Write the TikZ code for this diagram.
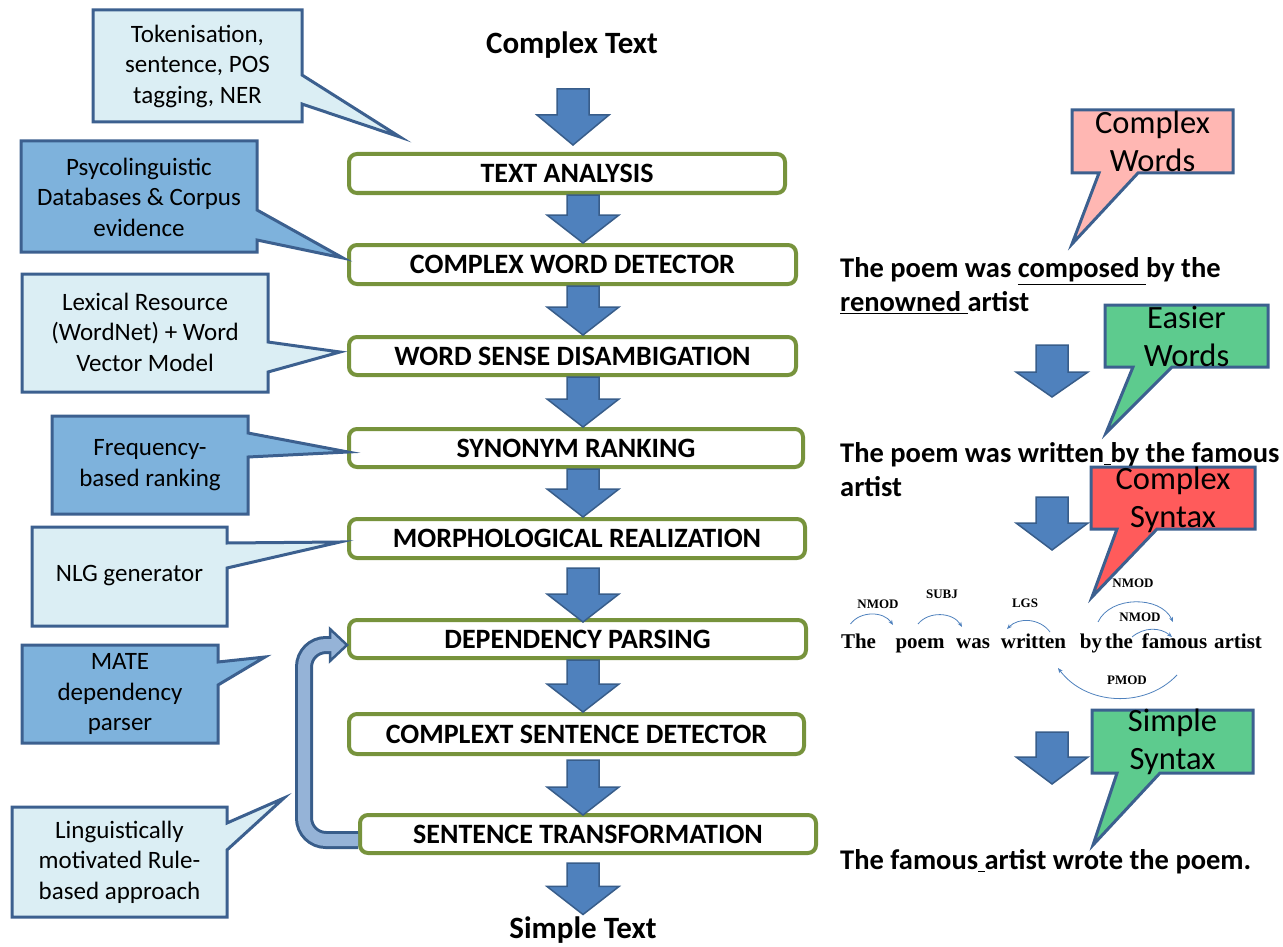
\documentclass[tikz,border=0pt]{standalone}
\usepackage{fontspec}
\setmainfont{Carlito}
\newfontfamily\depfont{Liberation Serif}
\usetikzlibrary{calc,arrows.meta}

\definecolor{calloutline}{RGB}{60,96,143}
\definecolor{lightfill}{RGB}{219,238,244}
\definecolor{midfill}{RGB}{126,178,220}
\definecolor{arrowfill}{RGB}{79,129,189}
\definecolor{arrowline}{RGB}{56,93,138}
\definecolor{stepline}{RGB}{119,147,60}
\definecolor{loopfill}{RGB}{149,179,215}
\definecolor{pinkfill}{RGB}{255,183,179}
\definecolor{greenfill}{RGB}{93,203,142}
\definecolor{redfill}{RGB}{255,91,91}

\tikzset{
  stepbox/.style={draw=stepline, line width=4pt, rounded corners=8pt, fill=white,
    inner sep=0pt, font=\fontsize{28}{30}\selectfont\bfseries},
  calloutL/.style={draw=calloutline, line width=3pt, fill=lightfill, line join=miter},
  calloutM/.style={draw=calloutline, line width=3pt, fill=midfill, line join=miter},
  calloutP/.style={draw=calloutline, line width=3pt, fill=pinkfill, line join=miter},
  calloutG/.style={draw=calloutline, line width=3pt, fill=greenfill, line join=miter},
  calloutR/.style={draw=calloutline, line width=3pt, fill=redfill, line join=miter},
  callouttext/.style={align=center, inner sep=0pt, font=\fontsize{25}{30.5}\selectfont},
  bigtext/.style={align=center, inner sep=0pt, font=\fontsize{32.5}{38}\selectfont},
  titletext/.style={inner sep=0pt, font=\fontsize{31}{34}\selectfont\bfseries},
  blockarrow/.style={fill=arrowfill, draw=arrowline, line width=1.5pt, line join=miter},
  sentence/.style={anchor=west, align=left, inner sep=0pt, font=\fontsize{28.5}{34}\selectfont\bfseries},
  depword/.style={anchor=base, inner sep=0pt, font=\depfont\bfseries\fontsize{21}{21}\selectfont},
  deplabel/.style={inner sep=0pt, font=\depfont\bfseries\fontsize{13}{13}\selectfont},
  deparc/.style={draw=arrowfill, line width=0.8pt, -{Stealth[length=5pt,width=4pt]}},
}

% callout with its pointer on the right edge: style, x1, y1, x2, y2, pointer start y, tip, pointer end y
\newcommand\calloutright[8]{%
  \draw[#1] (#2,#3) -- (#4,#3) -- (#4,#6) -- #7 -- (#4,#8) -- (#4,#5) -- (#2,#5) -- cycle;}
% callout with its pointer on the bottom edge: style, x1, y1, x2, y2, pointer left x, tip, pointer right x
\newcommand\calloutbottom[8]{%
  \draw[#1] (#2,#3) -- (#4,#3) -- (#4,#5) -- (#8,#5) -- #7 -- (#6,#5) -- (#2,#5) -- cycle;}
% downward block arrow: [head length] shaft start, tip
\newcommand\blockdown[3][28]{%
  \draw[blockarrow] let \p1=#2, \p2=#3 in
    (\x1-16pt,\y1) -- (\x1+16pt,\y1) -- (\x1+16pt,\y2+#1pt) -- (\x1+36pt,\y2+#1pt)
    -- (\x1,\y2) -- (\x1-36pt,\y2+#1pt) -- (\x1-16pt,\y2+#1pt) -- cycle;}

\begin{document}
\begin{tikzpicture}[x=1pt,y=-1pt]
\useasboundingbox (0,0) rectangle (1283,947);

% ---------- pipeline ----------
\node[titletext] (ct) at (572,45) {Complex Text};
\node[titletext] (stx) at (583,930) {Simple Text};

\node[stepbox, minimum width=436pt, minimum height=39pt] (ta)  at (567,173.5) {TEXT ANALYSIS};
\node[stepbox, minimum width=447pt, minimum height=39pt] (cwd) at (572.5,264.5) {COMPLEX WORD DETECTOR};
\node[stepbox, minimum width=447pt, minimum height=38pt] (wsd) at (572.5,356) {WORD SENSE DISAMBIGATION};
\node[stepbox, minimum width=454pt, minimum height=38pt] (sr)  at (576,448) {SYNONYM RANKING};
\node[stepbox, minimum width=456pt, minimum height=39pt] (mr)  at (577,538.5) {MORPHOLOGICAL REALIZATION};
\node[stepbox, minimum width=457pt, minimum height=38pt] (dp)  at (577.5,639) {DEPENDENCY PARSING};
\node[stepbox, minimum width=455pt, minimum height=40pt] (csd) at (576.5,734) {COMPLEXT SENTENCE DETECTOR};
\node[stepbox, minimum width=456pt, minimum height=38pt] (st)  at (588,834) {SENTENCE TRANSFORMATION};

% block arrows between the steps
\coordinate (ax) at (583,0);
\coordinate (top0) at (573,89);
\coordinate (top1) at (573,145);
\blockdown[30]{(top0)}{(top1)}
\blockdown{(ta.south -| ax)}{(cwd.north -| ax)}
\blockdown{(cwd.south -| ax)}{(wsd.north -| ax)}
\blockdown{(wsd.south -| ax)}{(sr.north -| ax)}
\blockdown{(sr.south -| ax)}{(mr.north -| ax)}
\blockdown{($(mr.south -| ax)+(0,8)$)}{($(dp.north -| ax)+(0,4)$)}
\blockdown{(dp.south -| ax)}{(csd.north -| ax)}
\blockdown{($(csd.south -| ax)+(0,4)$)}{($(st.north -| ax)+(0,2)$)}
\blockdown{($(st.south -| ax)+(0,8)$)}{($(stx.north -| ax)+(0,-2)$)}

% feedback loop from sentence transformation back to dependency parsing
\coordinate (fbx) at (304,0);
\coordinate (fb1) at ($(st.west)+(0,6)$);
\coordinate (fbhead) at ($(dp.west)+(0,6)$);
\coordinate (fb4) at ($(fbhead)+(-17,0)$);
\coordinate (fb2) at (fb1 -| fbx);
\coordinate (fb3) at (fb4 -| fbx);
\draw[arrowline, line width=18pt, rounded corners=22pt] (fb1) -- (fb2) -- (fb3) -- (fb4);
\filldraw[draw=arrowline, fill=loopfill, line width=2.5pt, line join=miter]
  ($(fb4)+(0,-16)$) -- (fbhead) -- ($(fb4)+(0,16)$) -- cycle;
\draw[loopfill, line width=12pt, rounded corners=22pt] (fb1) -- (fb2) -- (fb3) -- ($(fb4)+(3,0)$);

% ---------- resource callouts ----------
\calloutright{calloutL}{93}{10}{302}{122}{75}{(400,137)}{104}
\node[callouttext] (tok) at (197.5,66) {Tokenisation,\\sentence, POS\\tagging, NER};

\calloutright{calloutM}{21}{141}{257}{252}{210}{(343,258)}{240}
\node[callouttext] (psy) at (139,197) {Psycolinguistic\\Databases \& Corpus\\evidence};

\calloutright{calloutL}{22}{274}{268}{392}{342}{(340,352)}{372}
\node[callouttext] (lex) at (145,332) {Lexical Resource\\(WordNet) + Word\\Vector Model};

\calloutright{calloutM}{52}{416}{248}{514}{433}{(348,452)}{457}
\node[callouttext] (freq) at (150,465) {Frequency-\\based ranking};

\calloutright{calloutL}{32}{527}{227}{626}{543}{(340,542)}{568}
\node[callouttext] (nlg) at (129.5,576) {NLG generator};

\calloutright{calloutM}{22}{645}{218}{743}{662}{(265,657)}{685}
\node[callouttext] (mate) at (120,694) {MATE\\dependency\\parser};

\calloutright{calloutL}{12}{807}{227}{917}{823}{(284,798)}{850}
\node[callouttext] (rule) at (119.5,862) {Linguistically\\motivated Rule-\\based approach};

% ---------- worked example ----------
\node[sentence] (ex1) at (840,286) {The poem was \underline{composed }by the\\\underline{renowned }artist};
\node[sentence] (ex2) at (840,469.5) {The poem was written\underline{\ }by the famous\\artist};
\node[sentence] (ex3) at (840,862) {The famous\underline{\ }artist wrote the poem.};

\blockdown[25]{(1052,345)}{(1052,397)}
\blockdown[27]{(1052,497)}{(1052,550)}
\blockdown[27]{(1052,732)}{(1052,784)}

% dependency parse of the intermediate sentence
\node[depword] (wThe)     at (858.5,648.5)  {The};
\node[depword] (wPoem)    at (920,648.5)    {poem};
\node[depword] (wWas)     at (973,648.5)    {was};
\node[depword] (wWritten) at (1033.5,648.5) {written};
\node[depword] (wBy)      at (1091,648.5)   {by};
\node[depword] (wThe2)    at (1119,648.5)   {the};
\node[depword] (wFamous)  at (1174.5,648.5) {famous};
\node[depword] (wArtist)  at (1238,648.5)   {artist};

\draw[deparc] ($(wThe.base)+(-8,-24.5)$) to[bend left=55] ($(wPoem.base)+(-27,-23.5)$);
\draw[deparc] ($(wPoem.base)+(-2,-24.5)$) to[bend left=55] ($(wWas.base)+(-11,-21.5)$);
\draw[deparc] ($(wWritten.base)+(16.5,-16.5)$) to[bend right=50] ($(wWritten.base)+(-26.5,-19.5)$);
\draw[deparc] ($(wBy.base)+(7,-26.5)$) to[bend left=65] ($(wFamous.base)+(-1.5,-26.5)$);
\draw[deparc] ($(wThe2.base)+(13,-11.5)$) to[bend left=40] ($(wFamous.base)+(-2.5,-11.5)$);
\draw[deparc] ($(wFamous.base)+(2.5,26.5)$) to[bend left=50] ($(wWritten.base)+(24.5,19.5)$);

\node[deplabel] (l1) at (878,604) {NMOD};
\node[deplabel] (l2) at (942,594) {SUBJ};
\node[deplabel] (l3) at (1025,603) {LGS};
\node[deplabel] (l4) at (1133,583) {NMOD};
\node[deplabel] (l5) at (1140,617) {NMOD};
\node[deplabel] (l6) at (1127,680) {PMOD};

% ---------- annotation callouts ----------
\calloutbottom{calloutP}{1072}{110}{1233}{173}{1099}{(1072,244)}{1138}
\node[bigtext] (cwords) at (1152.5,141) {Complex\\Words};

\calloutbottom{calloutG}{1105}{305}{1268}{367}{1133}{(1106,433)}{1172}
\node[bigtext] (ewords) at (1186.5,336) {Easier\\Words};

\calloutbottom{calloutR}{1091}{467}{1255}{529}{1117}{(1092,597)}{1157}
\node[bigtext] (csyn) at (1173,500) {Complex\\Syntax};

\calloutbottom{calloutG}{1092}{710}{1253}{773}{1117}{(1093,845)}{1160}
\node[bigtext] (ssyn) at (1172.5,742) {Simple\\Syntax};

\end{tikzpicture}
\end{document}
